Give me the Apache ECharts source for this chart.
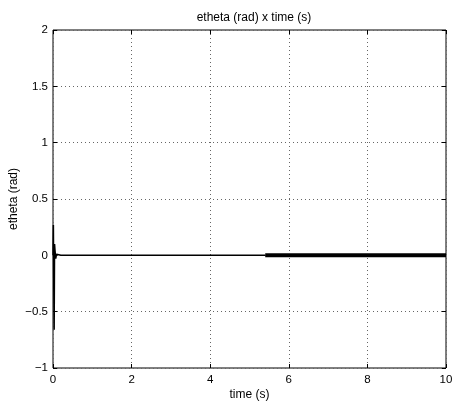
<!DOCTYPE html>
<html>
<head>
<meta charset="utf-8">
<script src="https://cdn.jsdelivr.net/npm/echarts@6/dist/echarts.min.js"></script>
<style>html,body{margin:0;padding:0;background:#fff}#c{width:452px;height:408px}</style>
</head>
<body>
<div id="c"></div>
<script>
var titleText = 'etheta (rad) x time (s)';
var xName = 'time (s)';
var yName = 'etheta (rad)';
// transient response (time, value)
var time = [0, 0.01, 0.02, 0.03, 0.04, 0.05, 0.07, 0.09, 0.12, 0.2, 1, 2, 3, 4, 5, 5.4];
var etheta = [0, 0.27, -0.3, -0.66, 0.1, 0.05, -0.03, 0.01, 0, 0, 0, 0, 0, 0, 0, 0];
// chattering band (thick) from ~5.4 s to the end
var bandTime = [5.4, 10];
var bandValue = [0, 0];

var font = 'Liberation Sans, Arial, Helvetica, sans-serif';
function fmt(v){ return String(v).replace('-', '\u2212'); }
var chart = echarts.init(document.getElementById('c'), null, {renderer:'canvas'});
var tick = {show:true, inside:true, length:4, lineStyle:{color:'#000'}};
var noLine = {show:false, onZero:false};
chart.setOption({
  animation:false,
  backgroundColor:'#fff',
  title:{text:titleText, left:249, top:7, textAlign:'center',
    textStyle:{fontFamily:font, fontSize:12, fontWeight:'normal', color:'#000'}},
  grid:{left:53, right:6, top:30, bottom:40, show:true, borderColor:'#000', borderWidth:1,
    backgroundColor:'#fff', containLabel:false, outerBoundsMode:'none'},
  xAxis:[{
    type:'value', min:0, max:10, interval:2, position:'bottom',
    name:xName, nameLocation:'middle', nameGap:21, nameMoveOverlap:false,
    nameTextStyle:{fontFamily:font, fontSize:12, color:'#000'},
    axisLine:noLine, axisTick:tick,
    axisLabel:{fontFamily:font, fontSize:11.5, color:'#000', margin:6, formatter:fmt},
    splitLine:{show:true, lineStyle:{color:'#666', type:[1,3], width:1}}
  },{
    type:'value', min:0, max:10, interval:2, position:'top',
    axisLine:noLine, axisTick:tick,
    axisLabel:{show:false}, splitLine:{show:false}
  }],
  yAxis:[{
    type:'value', min:-1, max:2, interval:0.5, position:'left',
    name:yName, nameLocation:'middle', nameGap:33, nameMoveOverlap:false,
    nameTextStyle:{fontFamily:font, fontSize:12, color:'#000'},
    axisLine:noLine, axisTick:tick,
    axisLabel:{fontFamily:font, fontSize:11.5, color:'#000', margin:5, formatter:fmt},
    splitLine:{show:true, lineStyle:{color:'#666', type:[1,3], width:1}}
  },{
    type:'value', min:-1, max:2, interval:0.5, position:'right',
    axisLine:noLine, axisTick:tick,
    axisLabel:{show:false}, splitLine:{show:false}
  }],
  series:[{
    type:'line', showSymbol:false, symbol:'none',
    data: time.map(function(t,i){return [t, etheta[i]];}),
    lineStyle:{color:'#000', width:1.5}
  },{
    type:'line', showSymbol:false, symbol:'none',
    data: bandTime.map(function(t,i){return [t, bandValue[i]];}),
    lineStyle:{color:'#000', width:4}
  }]
});
</script>
</body>
</html>
